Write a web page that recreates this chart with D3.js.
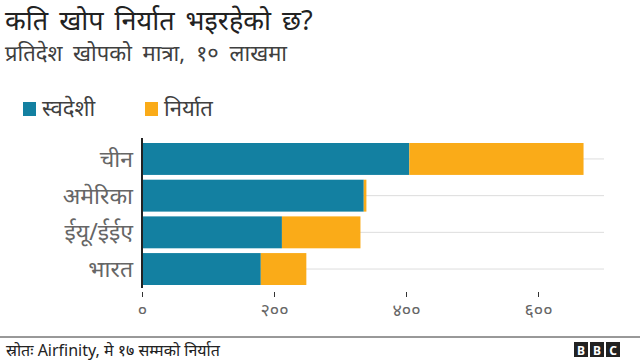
<!DOCTYPE html>
<html lang="ne">
<head>
    <meta charset="UTF-8">
    <title>खोप निर्यात</title>
    <style>
        body{ margin:0; background:#fff; }
        svg{ display:block; }
        text{ font-family: "Noto Sans", sans-serif; }
    </style>
    <script src="https://cdn.jsdelivr.net/npm/d3@7"></script>
</head>
<body>
<script>
    const width = 640
    const height = 363

    // data (millions of doses)
    const countries = ["चीन", "अमेरिका", "ईयू/ईईए", "भारत"]
    const domestic = [405, 336, 212, 180]
    const exported = [264, 4, 119, 69]
    const seriesNames = ["स्वदेशी", "निर्यात"]
    const seriesColors = ["#1380A1", "#FAAB18"]
    const tickValues = [0, 200, 400, 600]
    const tickLabels = ["०", "२००", "४००", "६००"]

    const svg = d3.select("body").append("svg")
        .attr("width", width).attr("height", height)

    // titles
    svg.append("text").attr("x", 5).attr("y", 30)
        .attr("font-size", 27).attr("fill", "#222")
        .attr("word-spacing", 4)
        .text("कति खोप निर्यात भइरहेको छ?")
    svg.append("text").attr("x", 5).attr("y", 61)
        .attr("font-size", 22).attr("fill", "#404040")
        .attr("word-spacing", 5)
        .text("प्रतिदेश खोपको मात्रा, १० लाखमा")

    // legend
    const legend = svg.append("g").selectAll("g")
        .data(seriesNames).enter().append("g")
        .attr("transform", (d, i) => `translate(${[23, 145][i]},102)`)
    legend.append("rect").attr("width", 13).attr("height", 14)
        .attr("fill", (d, i) => seriesColors[i])
    legend.append("text").attr("x", 19).attr("y", 14)
        .attr("font-size", 22).attr("fill", "#404040")
        .text(d => d)

    const x = d3.scaleLinear().domain([0, 700]).range([142, 604])
    const y = d3.scaleBand().domain(countries).range([143, 285]).paddingInner(0.13).paddingOuter(0)

    // gridlines
    svg.append("g").selectAll("line").data(countries).enter().append("line")
        .attr("x1", x(0)).attr("x2", x(700))
        .attr("y1", d => y(d) + y.bandwidth() / 2)
        .attr("y2", d => y(d) + y.bandwidth() / 2)
        .attr("stroke", "#dddddd")

    const stacked = d3.stack().keys([0, 1])(countries.map((c, i) => [domestic[i], exported[i]]))

    svg.append("g").selectAll("g").data(stacked).enter().append("g")
        .attr("fill", (d, i) => seriesColors[i])
        .selectAll("rect").data(d => d).enter().append("rect")
        .attr("x", d => x(d[0]))
        .attr("width", d => x(d[1]) - x(d[0]))
        .attr("y", (d, i) => y(countries[i]))
        .attr("height", y.bandwidth())

    // y labels
    svg.append("g").selectAll("text").data(countries).enter().append("text")
        .attr("x", 133).attr("y", d => y(d) + y.bandwidth() / 2 + 8)
        .attr("text-anchor", "end").attr("font-size", 23).attr("fill", "#666")
        .text(d => d)

    // x axis
    const xAxis = d3.axisBottom(x).tickValues(tickValues)
        .tickFormat((d, i) => tickLabels[i]).tickSize(5).tickPadding(6)
    const gx = svg.append("g").attr("transform", "translate(0,292)").call(xAxis)
    gx.select(".domain").remove()
    gx.selectAll(".tick line").attr("stroke", "#333")
    gx.selectAll(".tick text").attr("font-size", 18).attr("fill", "#666")
        .attr("font-family", "'Noto Sans', sans-serif")

    svg.append("line").attr("x1", x(0)).attr("x2", x(0))
        .attr("y1", 138).attr("y2", 288).attr("stroke", "#222").attr("stroke-width", 2)

    // footer
    svg.append("line").attr("x1", 0).attr("x2", width).attr("y1", 337).attr("y2", 337)
        .attr("stroke", "#333").attr("stroke-width", 1)
    svg.append("text").attr("x", 6).attr("y", 356).attr("font-size", 16).attr("fill", "#222")
        .text("स्रोतः Airfinity, मे १७ सम्मको निर्यात")

    const bbc = svg.append("g").selectAll("g").data(["B", "B", "C"]).enter().append("g")
        .attr("transform", (d, i) => `translate(${574 + i * 16},342)`)
    bbc.append("rect").attr("width", 14).attr("height", 15).attr("fill", "#222")
    bbc.append("text").attr("x", 7).attr("y", 12.5).attr("text-anchor", "middle")
        .attr("font-size", 12).attr("font-weight", "bold").attr("fill", "#fff")
        .attr("font-family", "Arial, 'Liberation Sans', sans-serif")
        .text(d => d)
</script>
</body>
</html>
